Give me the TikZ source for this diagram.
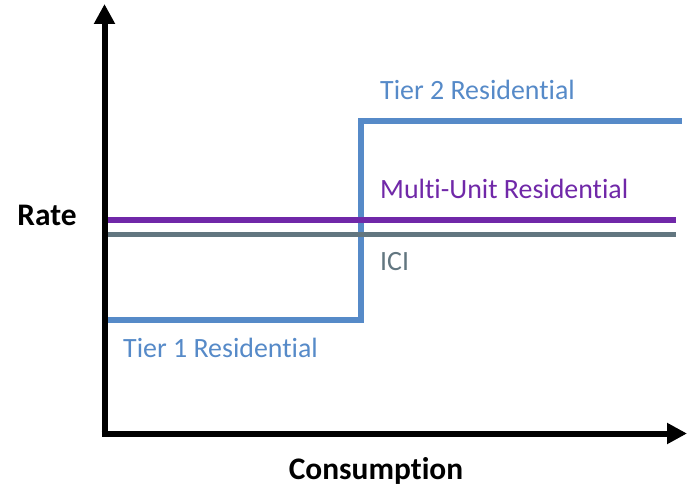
\documentclass[tikz,border=0pt]{standalone}
\usepackage{fontspec}
\setmainfont[Ligatures={NoCommon}]{Carlito}
\usepackage{tikz}
\usetikzlibrary{arrows.meta}
\usetikzlibrary{positioning}

\definecolor{tierblue}{RGB}{86,138,200}
\definecolor{mupurple}{RGB}{112,40,168}
\definecolor{icigray}{RGB}{98,118,128}

\tikzset{
    axis/.style={line width=6bp, -{Triangle[length=20bp,width=20bp]}},
    rateline/.style={line width=5.5bp},
    lbl/.style={anchor=base west, inner sep=0pt, font=\fontsize{28}{31}\selectfont},
    axlbl/.style={inner sep=0pt, font=\fontsize{31.5}{35}\selectfont\bfseries}
}

\begin{document}
\begin{tikzpicture}[x=1bp, y=-1bp]
            \useasboundingbox (0,0) rectangle (687,489);
            \coordinate (O) at (104.5,433.5);
            \coordinate (ytop) at (104.5,4);
            \coordinate (xend) at (687,433.5);
            % tiers
            \coordinate (t1a) at (105,320);
            \coordinate (t1b) at (361,320);
            \coordinate (t2a) at (361,121);
            \coordinate (t2b) at (682,121);
            \draw[rateline, tierblue, line join=miter] (t1a) -- (t1b) -- (t2a) -- (t2b);
            % flat rates
            \coordinate (mua) at (108,220);
            \coordinate (mub) at (676,220);
            \coordinate (icia) at (108,234.5);
            \coordinate (icib) at (676,234.5);
            \draw[rateline, mupurple] (mua) -- (mub);
            \draw[rateline, icigray] (icia) -- (icib);
            % axes
            \draw[axis] (O) -- (ytop);
            \draw[axis] ([xshift=-3bp]O) -- (xend);
            \node[lbl, tierblue] (tier2) at (380,100) {Tier 2 Residential};
            \node[lbl, mupurple] (multi) at (380,199) {Multi-Unit Residential};
            \node[lbl, icigray] (ici) at (380,271) {ICI};
            \node[lbl, tierblue] (tier1) at (123,357) {Tier 1 Residential};
            \node[axlbl] (rate) at (47,215) {Rate};
            \node[axlbl] (cons) at (376,471) {Consumption};
        \end{tikzpicture}
\end{document}
